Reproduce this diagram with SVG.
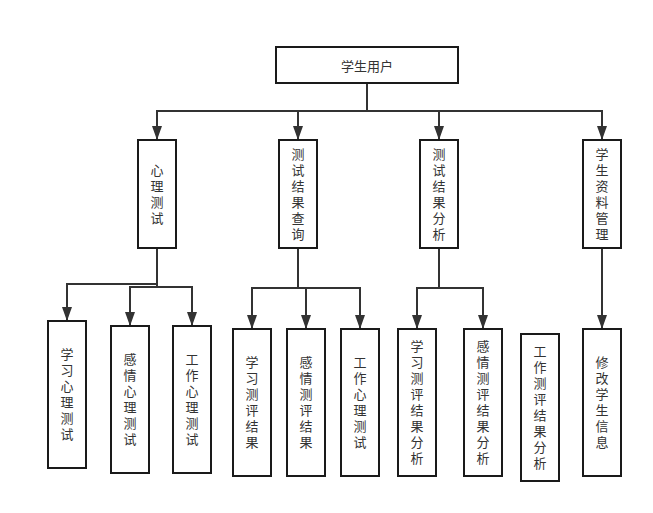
<svg xmlns="http://www.w3.org/2000/svg" width="653" height="513" viewBox="0 0 653 513">
<defs>
<style>
.box{fill:#fff;stroke:#1a1a1a;stroke-width:2}
.lbl{font-family:"Noto Sans CJK SC","Noto Sans",sans-serif;font-size:13px;fill:#333;text-anchor:middle}
.v{writing-mode:vertical-rl;letter-spacing:3px}
.edge{fill:none;stroke:#333;stroke-width:2}
</style>
<marker id="arr" markerUnits="userSpaceOnUse" markerWidth="14" markerHeight="10" refX="14" refY="5" orient="auto">
<path d="M0,0 L14,5 L0,10 z" fill="#333"/>
</marker>
</defs>
<rect width="653" height="513" fill="#fff"/>
<g id="connectors">
<path class="edge" d="M367,83 V111 H157 V140" marker-end="url(#arr)"/>
<path class="edge" d="M367,111 H298 V140" marker-end="url(#arr)"/>
<path class="edge" d="M367,111 H439 V140" marker-end="url(#arr)"/>
<path class="edge" d="M367,111 H602 V140" marker-end="url(#arr)"/>
<path class="edge" d="M157,248 V284 H67 V321" marker-end="url(#arr)"/>
<path class="edge" d="M157,248 V287 H130 V326" marker-end="url(#arr)"/>
<path class="edge" d="M157,287 H192 V326" marker-end="url(#arr)"/>
<path class="edge" d="M298,248 V288 H252 V329" marker-end="url(#arr)"/>
<path class="edge" d="M298,288 H306 V329" marker-end="url(#arr)"/>
<path class="edge" d="M306,288 H360 V329" marker-end="url(#arr)"/>
<path class="edge" d="M439,248 V288 H417 V329" marker-end="url(#arr)"/>
<path class="edge" d="M439,288 H483 V329" marker-end="url(#arr)"/>
<path class="edge" d="M602,248 V329" marker-end="url(#arr)"/>
</g>
<g id="n-root">
<rect class="box" x="276" y="47" width="182" height="36"/>
<text class="lbl" x="367" y="70.5">学生用户</text>
</g>
<g id="n-xlcs">
<rect class="box" x="138" y="140" width="38" height="108"/>
<text class="lbl v" x="157" y="195.5">心理测试</text>
</g>
<g id="n-csjgcx">
<rect class="box" x="279" y="140" width="38" height="108"/>
<text class="lbl v" x="298" y="195.5">测试结果查询</text>
</g>
<g id="n-csjgfx">
<rect class="box" x="420" y="140" width="38" height="108"/>
<text class="lbl v" x="439" y="195.5">测试结果分析</text>
</g>
<g id="n-xszlgl">
<rect class="box" x="583" y="140" width="38" height="108"/>
<text class="lbl v" x="602" y="195.5">学生资料管理</text>
</g>
<g id="n-xxxlcs">
<rect class="box" x="48" y="321" width="38" height="147"/>
<text class="lbl v" x="67" y="396">学习心理测试</text>
</g>
<g id="n-gqxlcs">
<rect class="box" x="111" y="326" width="38" height="147"/>
<text class="lbl v" x="130" y="401">感情心理测试</text>
</g>
<g id="n-gzxlcs1">
<rect class="box" x="173" y="326" width="38" height="147"/>
<text class="lbl v" x="192" y="401">工作心理测试</text>
</g>
<g id="n-xxcpjg">
<rect class="box" x="233" y="329" width="38" height="147"/>
<text class="lbl v" x="252" y="404">学习测评结果</text>
</g>
<g id="n-gqcpjg">
<rect class="box" x="287" y="329" width="38" height="147"/>
<text class="lbl v" x="306" y="404">感情测评结果</text>
</g>
<g id="n-gzxlcs2">
<rect class="box" x="341" y="329" width="38" height="147"/>
<text class="lbl v" x="360" y="404">工作心理测试</text>
</g>
<g id="n-xxcpjgfx">
<rect class="box" x="398" y="329" width="38" height="147"/>
<text class="lbl v" x="417" y="404">学习测评结果分析</text>
</g>
<g id="n-gqcpjgfx">
<rect class="box" x="464" y="329" width="38" height="147"/>
<text class="lbl v" x="483" y="404">感情测评结果分析</text>
</g>
<g id="n-gzcpjgfx">
<rect class="box" x="521" y="334" width="38" height="147"/>
<text class="lbl v" x="540" y="409">工作测评结果分析</text>
</g>
<g id="n-xgxsxx">
<rect class="box" x="583" y="329" width="38" height="147"/>
<text class="lbl v" x="602" y="404">修改学生信息</text>
</g>
</svg>
